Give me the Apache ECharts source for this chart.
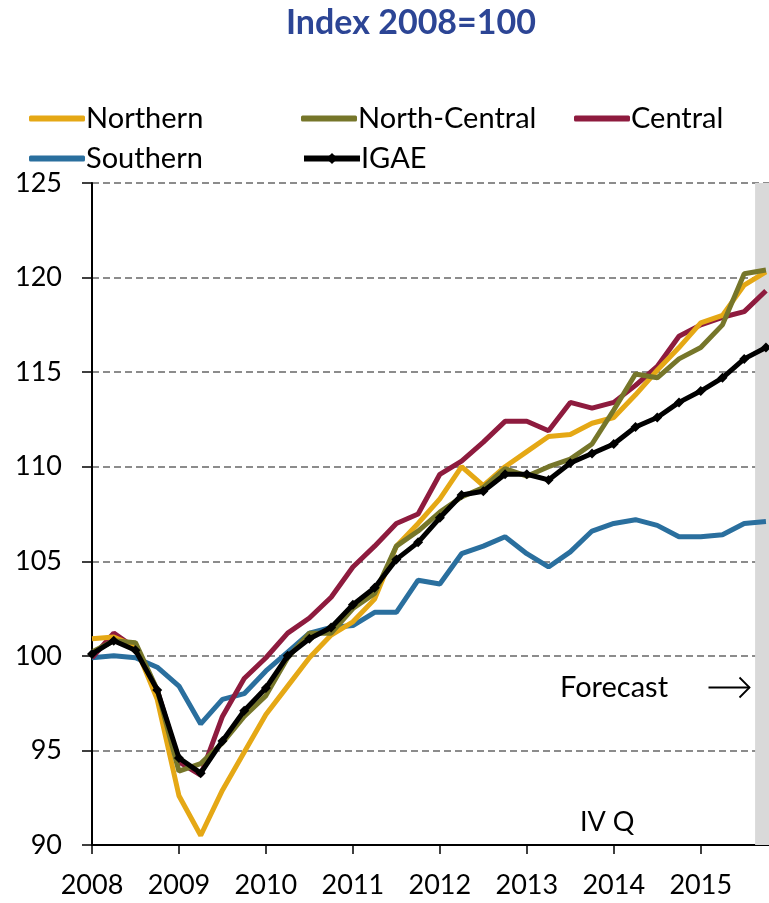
<!DOCTYPE html>
<html>
<head>
<meta charset="utf-8">
<script src="https://cdn.jsdelivr.net/npm/echarts@6/dist/echarts.min.js"></script>
<style>
    html, body { margin: 0; padding: 0; background: #fff; }
    #chart { width: 769px; height: 903px; }
</style>
</head>
<body>
<div id="chart"></div>
<script>
// quarterly index, 2008 Q1 .. 2015 Q4
var years = ['2008', '2009', '2010', '2011', '2012', '2013', '2014', '2015'];
var northern = [100.9, 101.0, 100.5, 97.7, 92.6, 90.5, 92.9, 94.9, 96.9, 98.4, 99.9, 101.1, 101.8, 103.0, 105.8, 107.0,
    108.3, 110.0, 109.0, 110.0, 110.8, 111.6, 111.7, 112.3, 112.6, 113.8, 115.1, 116.3, 117.6, 118.0, 119.6, 120.3];
var northCentral = [100.2, 100.8, 100.7, 98.2, 93.9, 94.3, 95.4, 96.8, 97.9, 99.9, 101.2, 101.2, 102.5, 103.3, 105.8, 106.6,
    107.6, 108.4, 108.9, 109.9, 109.5, 110.0, 110.4, 111.2, 113.0, 114.9, 114.7, 115.7, 116.3, 117.5, 120.2, 120.4];
var central = [99.9, 101.2, 100.4, 98.2, 94.4, 93.7, 96.8, 98.8, 99.9, 101.2, 102.0, 103.1, 104.7, 105.8, 107.0, 107.5,
    109.6, 110.3, 111.3, 112.4, 112.4, 111.9, 113.4, 113.1, 113.4, 114.3, 115.3, 116.9, 117.5, 117.9, 118.2, 119.3];
var southern = [99.9, 100.0, 99.9, 99.4, 98.4, 96.4, 97.7, 98.0, 99.2, 100.2, 101.2, 101.5, 101.6, 102.3, 102.3, 104.0,
    103.8, 105.4, 105.8, 106.3, 105.4, 104.7, 105.5, 106.6, 107.0, 107.2, 106.9, 106.3, 106.3, 106.4, 107.0, 107.1];
var igae = [100.1, 100.8, 100.3, 98.2, 94.6, 93.8, 95.5, 97.1, 98.3, 100.0, 100.9, 101.5, 102.7, 103.6, 105.1, 106.0,
    107.3, 108.5, 108.7, 109.6, 109.6, 109.3, 110.2, 110.7, 111.2, 112.1, 112.6, 113.4, 114.0, 114.7, 115.7, 116.3];
var forecastStart = 30.5; // between 2015 III Q and IV Q

var font = 'Lato, "Open Sans", sans-serif';

function pairs(arr) {
    return arr.map(function(v, i) { return [i, v]; });
}

function lineSeries(name, arr, color, extra) {
    var s = {
        name: name,
        type: 'line',
        data: pairs(arr),
        symbol: 'none',
        lineStyle: { color: color, width: 5 },
        itemStyle: { color: color },
        animation: false
    };
    for (var k in extra) s[k] = extra[k];
    return s;
}

// one legend per entry so the columns line up like the original
function legendAt(name, left, top, withMarker) {
    var l = {
        data: [name],
        left: left,
        top: top,
        itemWidth: 56,
        itemHeight: withMarker ? 14 : 6,
        itemGap: 0,
        textStyle: { fontFamily: font, fontSize: 29, color: '#000', padding: [0, 0, 0, -4] }
    };
    if (withMarker) {
        l.lineStyle = { width: 6 };
    } else {
        l.icon = 'roundRect';
    }
    return l;
}

var myChart = echarts.init(document.getElementById('chart'));

var option = {
    backgroundColor: '#fff',
    title: {
        text: 'Index 2008=100',
        left: 281,
        top: 1,
        textStyle: { fontFamily: font, fontSize: 34, fontWeight: 'bold', color: '#2C4595' }
    },
    legend: [
        legendAt('Northern', 24, 99),
        legendAt('North-Central', 296, 99),
        legendAt('Central', 569, 99),
        legendAt('Southern', 24, 139),
        legendAt('IGAE', 296, 139, true)
    ],
    grid: { left: 92, right: 0, top: 183, bottom: 58 },
    xAxis: {
        type: 'value',
        min: 0,
        max: 31.14,
        interval: 4,
        axisLine: { show: true, onZero: false, lineStyle: { color: '#000', width: 2 } },
        axisTick: { show: true, length: 9, lineStyle: { color: '#000', width: 1.5 } },
        splitLine: { show: false },
        axisLabel: {
            showMaxLabel: false,
            margin: 27,
            fontFamily: font,
            fontSize: 27,
            color: '#000',
            formatter: function(v) {
                return v % 4 === 0 ? years[v / 4] : '';
            }
        }
    },
    yAxis: {
        type: 'value',
        min: 90,
        max: 125,
        interval: 5,
        axisLine: { show: true, lineStyle: { color: '#000', width: 2 } },
        axisTick: { show: true, length: 10, lineStyle: { color: '#000', width: 1.5 } },
        splitLine: { show: true, lineStyle: { color: '#8c8c8c', width: 2, type: [7, 4] } },
        axisLabel: { margin: 30, fontFamily: font, fontSize: 27, color: '#000' }
    },
    series: [
        lineSeries('Southern', southern, '#2A6F9E', {
            markArea: {
                silent: true,
                itemStyle: { color: '#d9d9d9' },
                data: [[{ xAxis: forecastStart }, { xAxis: 31.14 }]]
            }
        }),
        lineSeries('Central', central, '#8E1B3E'),
        lineSeries('Northern', northern, '#E5A815'),
        lineSeries('North-Central', northCentral, '#76762A'),
        lineSeries('IGAE', igae, '#000', {
            symbol: 'diamond',
            symbolSize: 10,
            showSymbol: true
        })
    ],
    graphic: [
        {
            type: 'text', left: 560, top: 673,
            style: { text: 'Forecast', fontFamily: font, fontSize: 29, fill: '#000' }
        },
        {
            type: 'group', left: 706, top: 675,
            children: [
                { type: 'line', shape: { x1: 0, y1: 10, x2: 41, y2: 10 }, style: { stroke: '#000', lineWidth: 1.8 } },
                { type: 'polyline', shape: { points: [[31, 0], [41, 10], [31, 20]] }, style: { stroke: '#000', lineWidth: 1.8, fill: null } }
            ]
        },
        {
            type: 'text', left: 580, top: 809,
            style: { text: 'IV Q', fontFamily: font, fontSize: 27, fill: '#000' }
        }
    ]
};

myChart.setOption(option);
</script>
</body>
</html>
